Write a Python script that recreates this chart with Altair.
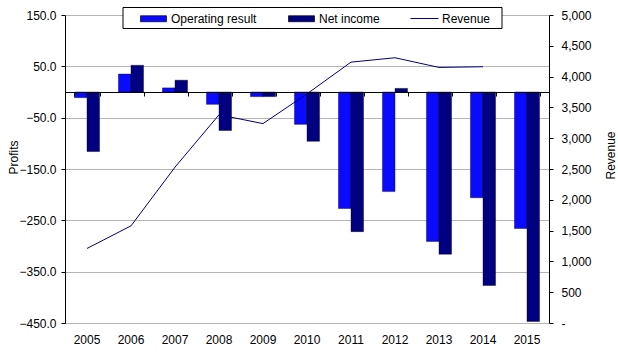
import altair as alt
import pandas as pd

# ---- data ----
years = [2005, 2006, 2007, 2008, 2009, 2010, 2011, 2012, 2013, 2014, 2015]
operating_result = [-11, 35, 8, -24, -9, -63, -227, -194, -291, -206, -266]
net_income = [-116, 52, 23, -75, -9, -96, -272, 7, -316, -377, -447]
revenue = [1210, 1577, 2530, 3380, 3237, 3720, 4235, 4306, 4149, 4160]  # no 2015 value

bar_series = ["Operating result", "Net income"]
bar_colors = ["#0a0aff", "#000080"]
line_series = ["Revenue"]
line_colors = ["#000080"]

left_ticks = [150, 50, -50, -150, -250, -350, -450]
right_ticks = [0, 500, 1000, 1500, 2000, 2500, 3000, 3500, 4000, 4500, 5000]

FONT = "Liberation Sans"
FS = 12
W, H = 484, 308
ZERO_OFFSET = -(H - H * 150 / 600)

bars_df = pd.DataFrame({
    "year": years * 2,
    "series": [bar_series[0]] * len(years) + [bar_series[1]] * len(years),
    "value": operating_result + net_income,
})
rev_df = pd.DataFrame({
    "year": years[:len(revenue)],
    "series": line_series[0],
    "revenue": revenue,
})

xscale = alt.Scale(paddingInner=0.43, paddingOuter=0.215)

box = alt.Chart(alt.Data(values=[{"a": 1}])).mark_rect(
    fill="white", stroke="black", strokeWidth=1
).encode(
    x=alt.value(58), x2=alt.value(437), y=alt.value(-7.5), y2=alt.value(13.5)
)

bars = alt.Chart(bars_df).mark_bar(stroke="#000000", strokeWidth=0.4).encode(
    x=alt.X("year:O", scale=xscale,
            axis=alt.Axis(title=None, orient="bottom", ticks=False, domain=False,
                          labelPadding=11, labelAngle=0, grid=False)),
    xOffset=alt.XOffset("series:N",
                        scale=alt.Scale(domain=bar_series, paddingInner=0, paddingOuter=0)),
    y=alt.Y("value:Q", scale=alt.Scale(domain=[-450, 150], nice=False, zero=False),
            axis=alt.Axis(title="Profits", orient="left", values=left_ticks, format=".1f",
                          grid=True, gridColor="#b4b4b4", tickSize=4, labelPadding=5,
                          titleAngle=270, titleX=-52, titleY=142, titleAlign="center",
                          titleBaseline="middle")),
    fill=alt.Fill("series:N", scale=alt.Scale(domain=bar_series, range=bar_colors),
                  legend=alt.Legend(title=None, orient="none", legendX=75, legendY=-10,
                                    direction="horizontal",
                                    symbolType="M-1,-0.23H1V0.23H-1Z", symbolSize=676,
                                    symbolStrokeColor="black", symbolStrokeWidth=0.7,
                                    labelOffset=4, columnPadding=30, padding=0)),
)

line = alt.Chart(rev_df).mark_line(strokeWidth=1).encode(
    x=alt.X("year:O", scale=xscale,
            axis=alt.Axis(title=None, orient="bottom", offset=ZERO_OFFSET, labels=False,
                          ticks=True, tickBand="extent", tickSize=4, domain=True,
                          grid=False, zindex=1)),
    y=alt.Y("revenue:Q", scale=alt.Scale(domain=[0, 5000], nice=False),
            axis=alt.Axis(title="Revenue", orient="right", values=right_ticks,
                          labelExpr="datum.value == 0 ? '-' : format(datum.value, ',')",
                          grid=False, tickSize=4, labelPadding=8,
                          titleAngle=270, titleX=61, titleY=140, titleAlign="center",
                          titleBaseline="middle")),
    stroke=alt.Stroke("series:N", scale=alt.Scale(domain=line_series, range=line_colors),
                      legend=alt.Legend(title=None, orient="none", legendX=345, legendY=-11,
                                        symbolType="stroke", symbolSize=784,
                                        symbolStrokeWidth=1, labelOffset=3, padding=0)),
)

chart = alt.layer(box, bars, line).resolve_scale(
    y="independent", fill="independent", stroke="independent"
).resolve_axis(
    x="independent", y="independent"
).properties(
    width=W, height=H,
    padding={"left": 65, "top": 15, "right": 69, "bottom": 31},
    autosize=alt.AutoSizeParams(type="none"),
    background="white",
).configure_view(stroke=None).configure_axis(
    labelFont=FONT, titleFont=FONT, labelFontSize=FS, titleFontSize=FS,
    titleFontWeight="normal", labelColor="black", titleColor="black",
    domainColor="black", tickColor="black",
).configure_legend(labelFont=FONT, labelFontSize=FS, labelColor="black")

chart.save("out.html", embed_options={"renderer": "svg", "actions": False})
